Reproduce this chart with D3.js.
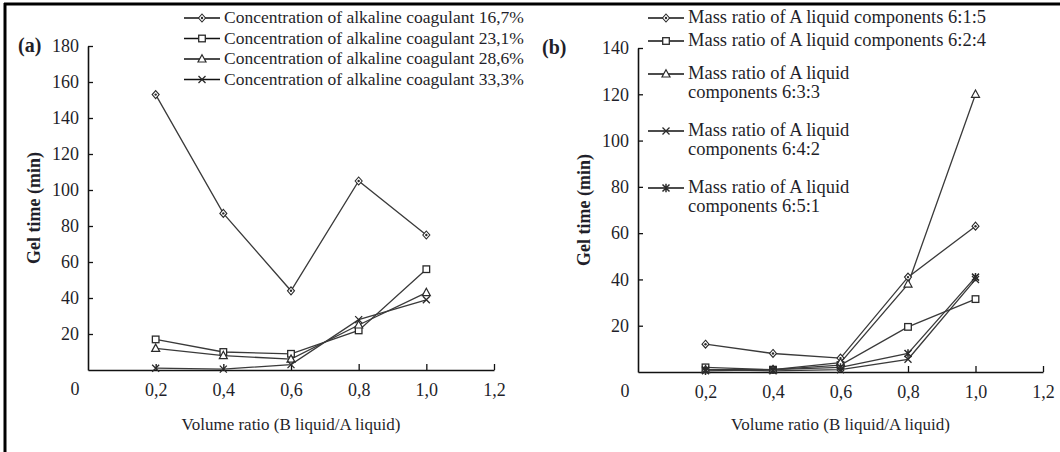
<!DOCTYPE html>
<html><head><meta charset="utf-8">
<script src="https://cdn.jsdelivr.net/npm/d3@7"></script>
<style>
body{margin:0;background:#fff;}
</style></head>
<body>
<svg id="c" width="1060" height="452" style="font-family:'Liberation Serif','Times New Roman','DejaVu Serif',serif"></svg>
<script>
const xValues = [0.2, 0.4, 0.6, 0.8, 1.0];
const xTicks = [0.2, 0.4, 0.6, 0.8, 1.0, 1.2];

const aNames = ["Concentration of alkaline coagulant 16,7%","Concentration of alkaline coagulant 23,1%","Concentration of alkaline coagulant 28,6%","Concentration of alkaline coagulant 33,3%"];
const aS1 = [153, 87, 44, 105, 75];
const aS2 = [17, 10, 9, 22, 56];
const aS3 = [12, 8, 6, 25, 43];
const aS4 = [1, 0.5, 3, 28, 39];
const aTicks = [20,40,60,80,100,120,140,160,180];

const bNames = [["Mass ratio of A liquid components 6:1:5"],["Mass ratio of A liquid components 6:2:4"],["Mass ratio of A liquid","components 6:3:3"],["Mass ratio of A liquid","components 6:4:2"],["Mass ratio of A liquid","components 6:5:1"]];
const bS1 = [12, 8, 6, 41, 63];
const bS2 = [2, 1, 3, 19.5, 31.5];
const bS3 = [1, 1, 4, 38, 120];
const bS4 = [1, 0.5, 1, 5.5, 40];
const bS5 = [0.5, 1, 2, 8, 41];
const bTicks = [20,40,60,80,100,120,140];

const svg = d3.select("#c");
const ink = "#2a2a2a";
const txt = "#1f1f2a";
const FONT = "Liberation Serif";

// frame
svg.append("line").attr("x1",4).attr("x2",1060).attr("y1",4).attr("y2",4).attr("stroke","#000").attr("stroke-width",3);
svg.append("line").attr("x1",5).attr("x2",5).attr("y1",3).attr("y2",452).attr("stroke","#000").attr("stroke-width",3);

function T(g){ return g.append("text").attr("font-family",FONT).attr("fill",txt); }

function marker(g, type, x, y){
  const s = 3.5;
  if(type==="diamond"){
    g.append("path").attr("d",`M${x},${y-s-0.5}L${x+s},${y}L${x},${y+s+0.5}L${x-s},${y}Z`).attr("fill","#fff").attr("stroke",ink).attr("stroke-width",1.1);
    g.append("circle").attr("cx",x).attr("cy",y).attr("r",1.2).attr("fill",ink);
  } else if(type==="square"){
    g.append("rect").attr("x",x-3.3).attr("y",y-3.3).attr("width",6.6).attr("height",6.6).attr("fill","#fff").attr("stroke",ink).attr("stroke-width",1.3);
  } else if(type==="triangle"){
    g.append("path").attr("d",`M${x},${y-4.3}L${x+4},${y+3}L${x-4},${y+3}Z`).attr("fill","#fff").attr("stroke",ink).attr("stroke-width",1.2);
  } else if(type==="x"){
    g.append("path").attr("d",`M${x-3.5},${y-3.5}L${x+3.5},${y+3.5}M${x-3.5},${y+3.5}L${x+3.5},${y-3.5}`).attr("stroke",ink).attr("stroke-width",1.3);
  } else if(type==="star"){
    g.append("path").attr("d",`M${x-3.5},${y-3.5}L${x+3.5},${y+3.5}M${x-3.5},${y+3.5}L${x+3.5},${y-3.5}M${x},${y-4.2}L${x},${y+4.2}`).attr("stroke",ink).attr("stroke-width",1.5);
  }
}

function panel(cfg){
  const g = svg.append("g");
  const x = d3.scaleLinear().domain([0,1.2]).range([cfg.x0,cfg.x1]);
  const y = d3.scaleLinear().domain([0,cfg.ymax]).range([cfg.y0,cfg.y1]);
  const xa = g.append("g").attr("transform",`translate(0,${cfg.y0})`)
    .call(d3.axisBottom(x).tickValues(xTicks).tickSizeInner(-6).tickSizeOuter(0).tickPadding(13).tickFormat(d=>d3.format(".1f")(d).replace(".",",")));
  const ya = g.append("g").attr("transform",`translate(${cfg.x0},0)`)
    .call(d3.axisLeft(y).tickValues(cfg.ticks).tickSizeInner(-5).tickSizeOuter(0).tickPadding(9));
  [xa,ya].forEach(a=>{
    a.attr("font-family",FONT).attr("font-size",18);
    a.select(".domain").attr("stroke","#111").attr("stroke-width",1.6);
    a.selectAll(".tick line").attr("stroke","#111").attr("stroke-width",1.3);
    a.selectAll(".tick text").attr("fill",txt).attr("font-family",FONT);
  });
  T(g).attr("x",x(0)-13).attr("y",cfg.y0+25).attr("text-anchor","middle").attr("font-size",18).text("0");
  T(g).attr("x",cfg.lblx).attr("y",y(cfg.ymax)+6).attr("font-size",20).attr("font-weight","bold").text(cfg.label);
  T(g).attr("transform",`translate(${cfg.ytx},${(cfg.y0+cfg.y1)/2}) rotate(-90)`).attr("text-anchor","middle").attr("font-size",18).attr("font-weight","bold").text("Gel time (min)");
  T(g).attr("x",(cfg.x0+cfg.x1)/2).attr("y",430).attr("text-anchor","middle").attr("font-size",17).text("Volume ratio (B liquid/A liquid)");
  const line = d3.line().x((d,i)=>x(xValues[i])).y(d=>y(d));
  cfg.series.forEach((s)=>{
    g.append("path").attr("d",line(s)).attr("fill","none").attr("stroke","#3a3a3a").attr("stroke-width",1.3);
  });
  cfg.series.forEach((s,k)=>{
    s.forEach((v,i)=>marker(g,cfg.markers[k],x(xValues[i]),y(v)));
  });
  let ly = cfg.ly;
  cfg.names.forEach((nm,k)=>{
    const lines = Array.isArray(nm)?nm:[nm];
    g.append("line").attr("x1",cfg.lx).attr("x2",cfg.lx+36).attr("y1",ly).attr("y2",ly).attr("stroke","#111").attr("stroke-width",1.4);
    marker(g,cfg.markers[k],cfg.lx+18,ly);
    lines.forEach((t,j)=>{
      T(g).attr("x",cfg.lx+40).attr("y",ly+5+j*19).attr("font-size",cfg.lfs).text(t);
    });
    ly += cfg.lstep[k];
  });
}

panel({x0:88,x1:494,y0:370,y1:46,ymax:180,ticks:aTicks,label:"(a)",lblx:18,ytx:40,
  series:[aS1,aS2,aS3,aS4],markers:["diamond","square","triangle","x"],names:aNames,
  lx:184,ly:18,lstep:[20.5,20.5,20.5,20.5],lfs:17.5});
panel({x0:638,x1:1043,y0:372,y1:48,ymax:140,ticks:bTicks,label:"(b)",lblx:542,ytx:590,
  series:[bS1,bS2,bS3,bS4,bS5],markers:["diamond","square","triangle","x","star"],names:bNames,
  lx:648,ly:18,lstep:[23,33,57,57,0],lfs:18.5});
</script>
</body></html>
